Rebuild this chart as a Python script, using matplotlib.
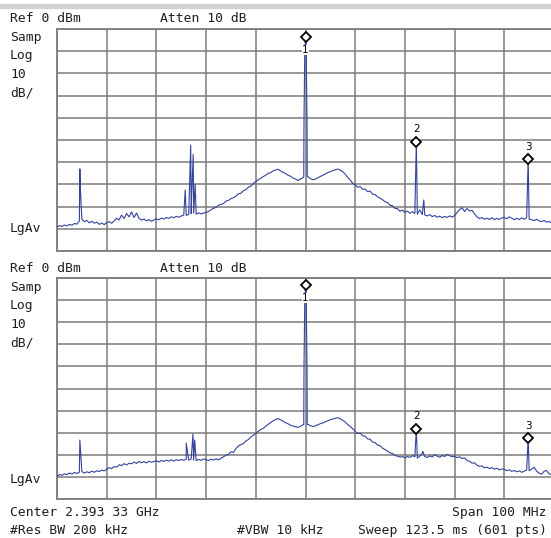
import numpy as np
import matplotlib
matplotlib.use("Agg")
import matplotlib.pyplot as plt
from matplotlib.patches import Rectangle

# sweep: center 2.393 33 GHz, span 100 MHz -> offset in MHz, 0.5 MHz steps
freq = np.arange(-50, 50.01, 0.5)

# upper trace (dBm), one value per 0.5 MHz bin
top_trace = [
    -89.2, -88.6, -88.9, -88.3, -88.7, -88.0, -88.4, -87.6, -87.9, -86.5,
    -85.6, -86.8, -86.2, -87.3, -86.6, -87.5, -87.0, -88.0, -87.4, -88.1,
    -87.2, -86.8, -87.5, -86.4, -85.2, -86.0, -83.8, -85.4, -83.1, -84.6,
    -82.4, -84.9, -82.9, -85.3, -86.1, -85.6, -86.4, -85.9, -86.6, -86.0,
    -85.5, -85.9, -85.2, -85.6, -84.9, -85.3, -84.6, -85.0, -84.4, -84.8,
    -84.2, -83.8, -84.0, -83.5, -83.2, -83.0, -83.4, -82.8, -83.3, -82.9,
    -82.6, -82.2, -81.4, -80.8, -80.3, -79.4, -79.0, -78.6, -77.5, -77.2,
    -76.4, -76.0, -75.3, -74.2, -74.0, -72.8, -72.4, -71.3, -70.8, -69.6,
    -68.7, -67.9, -67.2, -66.5, -65.8, -65.0, -64.7, -63.9, -63.5, -63.2,
    -64.0, -64.6, -65.1, -65.9, -66.3, -67.2, -67.6, -68.2, -67.5, -67.0,
    -4.0,
    -66.6, -67.4, -67.9, -67.6, -67.0, -66.4, -65.9, -65.2, -64.7, -64.2,
    -63.8, -63.4, -63.1, -63.6, -64.3, -65.4, -66.9, -68.0, -69.5,
    -70.2, -71.3, -71.0, -72.2, -72.1, -73.3, -73.0, -74.4, -74.6, -75.6,
    -76.2, -76.9, -77.8, -78.2, -79.4, -79.6, -80.8, -80.9, -82.1, -81.6,
    -82.6, -82.0, -83.0, -82.3, -83.1, -83.4, -81.5, -83.6, -83.8, -84.2,
    -83.6, -84.5, -84.0, -84.8, -84.3, -85.0, -84.4, -84.9, -84.2, -84.7,
    -84.1, -82.6, -81.4, -80.5, -82.2, -80.9, -82.0, -81.7, -83.2, -84.6,
    -85.4, -84.9, -85.7, -85.2, -85.8, -85.0, -85.9, -85.3, -85.8, -85.1,
    -84.8, -85.5, -84.6, -85.2, -85.9, -85.3, -85.8, -85.1, -85.7, -85.0,
    -85.6, -85.9, -86.3, -85.7, -86.4, -86.8, -86.2, -87.0, -86.7, -87.4,
    -87.2,
]
# narrow spurs between bins (upper)
top_spur_f = [-45.4, -45.3, -24.2, -23.1, -22.9, -22.6, -22.2,
              -0.35, -0.3, -0.15, 0.15, 0.3, 0.35, 22.3, 23.8, 44.8]
top_spur_db = [-63.0, -72.0, -72.5, -52.3, -75.0, -56.5, -70.0,
               -66.5, -41.0, -11.0, -11.0, -41.0, -66.5, -50.8, -77.0, -58.6]

# lower trace (dBm)
bot_trace = [
    -89.8, -88.9, -89.3, -88.6, -89.0, -88.2, -88.7, -88.0, -88.4, -87.9,
    -87.6, -88.3, -87.7, -88.1, -87.4, -87.9, -87.2, -87.6, -86.9, -87.3,
    -86.5, -85.8, -86.2, -85.3, -85.6, -84.5, -84.9, -84.0, -84.6, -83.8,
    -84.1, -83.3, -83.9, -83.0, -83.6, -83.1, -83.7, -82.9, -83.4, -83.0,
    -82.8, -83.2, -82.6, -83.0, -82.4, -82.9, -82.3, -82.8, -82.2, -82.6,
    -82.1, -82.5, -82.0, -82.4, -81.9, -82.3, -82.6, -82.1, -82.5, -81.9,
    -82.2, -82.6, -82.0, -82.4, -81.8, -82.3, -81.6, -80.9, -80.2, -79.8,
    -78.6, -78.9, -77.2, -76.0, -75.4, -74.9, -73.8, -73.1, -71.9, -71.2,
    -70.3, -69.4, -68.5, -68.0, -67.1, -66.2, -65.4, -64.6, -64.0, -63.6,
    -64.2, -64.8, -65.5, -66.0, -66.6, -67.0, -67.3, -67.6, -67.1, -66.4,
    -3.5,
    -66.3, -66.8, -67.2, -66.9, -66.4, -65.9, -65.6, -65.0, -64.6, -64.1,
    -63.8, -63.5, -63.2, -63.7, -64.4, -65.2, -66.3, -67.2, -68.2,
    -69.5, -70.4, -70.2, -71.4, -71.6, -72.8, -73.0, -74.2, -74.5, -75.6,
    -75.9, -77.0, -77.6, -78.3, -79.1, -79.4, -80.3, -80.6, -81.0, -80.8,
    -81.4, -80.7, -81.2, -80.4, -80.9, -81.5, -80.6, -79.2, -80.8, -81.2,
    -80.5, -81.0, -79.9, -80.6, -81.1, -80.3, -80.8, -79.8, -80.4, -80.9,
    -80.6, -81.3, -80.9, -81.7, -81.4, -82.6, -82.9, -83.8, -83.6, -84.7,
    -85.2, -85.0, -85.9, -85.6, -86.2, -85.8, -86.5, -86.1, -86.8, -86.4,
    -86.6, -87.2, -86.8, -87.5, -87.1, -87.7, -87.3, -87.9, -87.4, -86.9,
    -87.2, -86.5, -85.6, -87.4, -88.3, -88.8, -87.5, -87.1, -88.6, -88.9,
    -88.4,
]
bot_spur_f = [-45.4, -24.0, -22.65, -22.3,
              -0.35, -0.3, -0.15, 0.15, 0.3, 0.35, 22.3, 23.6, 44.8]
bot_spur_db = [-73.3, -74.7, -70.6, -73.3,
               -66.3, -40.0, -11.0, -11.0, -40.0, -66.3, -68.3, -78.5, -72.4]

# markers: frequency offset (MHz) and level (dBm)
mk_names = ["1", "2", "3"]
mk_freq = [0.0, 22.3, 44.8]
top_mk_db = [-3.6, -50.8, -58.6]
bot_mk_db = [-3.2, -68.3, -72.4]

W, H = 551, 538
fig = plt.figure(figsize=(W / 100, H / 100), dpi=100)
fig.patch.set_facecolor("white")
fig.patches.append(Rectangle((0, 1 - 8 / H), 1, 4 / H, transform=fig.transFigure,
                             color="#d2d2d2", zorder=0))

mono = "DejaVu Sans Mono"
tcol = "#1e1e1e"
trace_col = "#33439a"
grid_col = "#7c7c7c"


def ftext(px, py, s, ha="left"):
    fig.text(px / W, 1 - py / H, s, ha=ha, va="baseline", family=mono,
             fontsize=9.4, color=tcol)


def panel(ax, trace, spur_f, spur_db, mk_db):
    f = np.concatenate([freq, spur_f])
    v = np.concatenate([trace, spur_db])
    order = np.argsort(f, kind="stable")
    ax.plot(f[order], v[order], color=trace_col, lw=0.8, zorder=3)
    ax.set_xlim(-50, 50)
    ax.set_ylim(-100, 0)
    ax.set_xticks(np.arange(-50, 51, 10))
    ax.set_yticks(np.arange(-100, 1, 10))
    ax.tick_params(length=0, labelbottom=False, labelleft=False)
    ax.grid(True, color=grid_col, lw=1.1)
    for sp in ax.spines.values():
        sp.set_color(grid_col)
        sp.set_linewidth(1.3)
    for name, mf, md in zip(mk_names, mk_freq, mk_db):
        ax.plot([mf], [md], marker="D", ms=5, mfc="white", mec="black",
                mew=1.3, clip_on=False, zorder=5)
        below = md > -10
        ax.annotate(name, (mf, md), xytext=(0, -9.5 if below else 9),
                    textcoords="offset points", ha="center", va="center",
                    fontsize=7.5, color="black", zorder=7,
                    bbox=dict(fc="white", ec="none", pad=0.1) if below else None)


ax1 = fig.add_axes([57 / W, 1 - 251 / H, 497 / W, 222 / H])
ax2 = fig.add_axes([57 / W, 1 - 499 / H, 497 / W, 221 / H])
panel(ax1, top_trace, top_spur_f, top_spur_db, top_mk_db)
panel(ax2, bot_trace, bot_spur_f, bot_spur_db, bot_mk_db)

for off in (0, 250):
    ftext(10, 22 + off, "Ref 0 dBm")
    ftext(160, 22 + off, "Atten 10 dB")
    ftext(10, 41 + off, "Samp")
    ftext(10, 59 + off, "Log")
    ftext(10, 78 + off, "10")
    ftext(10, 96 + off, "dB/")
ftext(10, 232, "LgAv")
ftext(10, 483, "LgAv")
ftext(10, 516, "Center 2.393 33 GHz")
ftext(547, 516, "Span 100 MHz", ha="right")
ftext(10, 534, "#Res BW 200 kHz")
ftext(237, 534, "#VBW 10 kHz")
ftext(547, 534, "Sweep 123.5 ms (601 pts)", ha="right")

fig.savefig("out.png", dpi=100)
